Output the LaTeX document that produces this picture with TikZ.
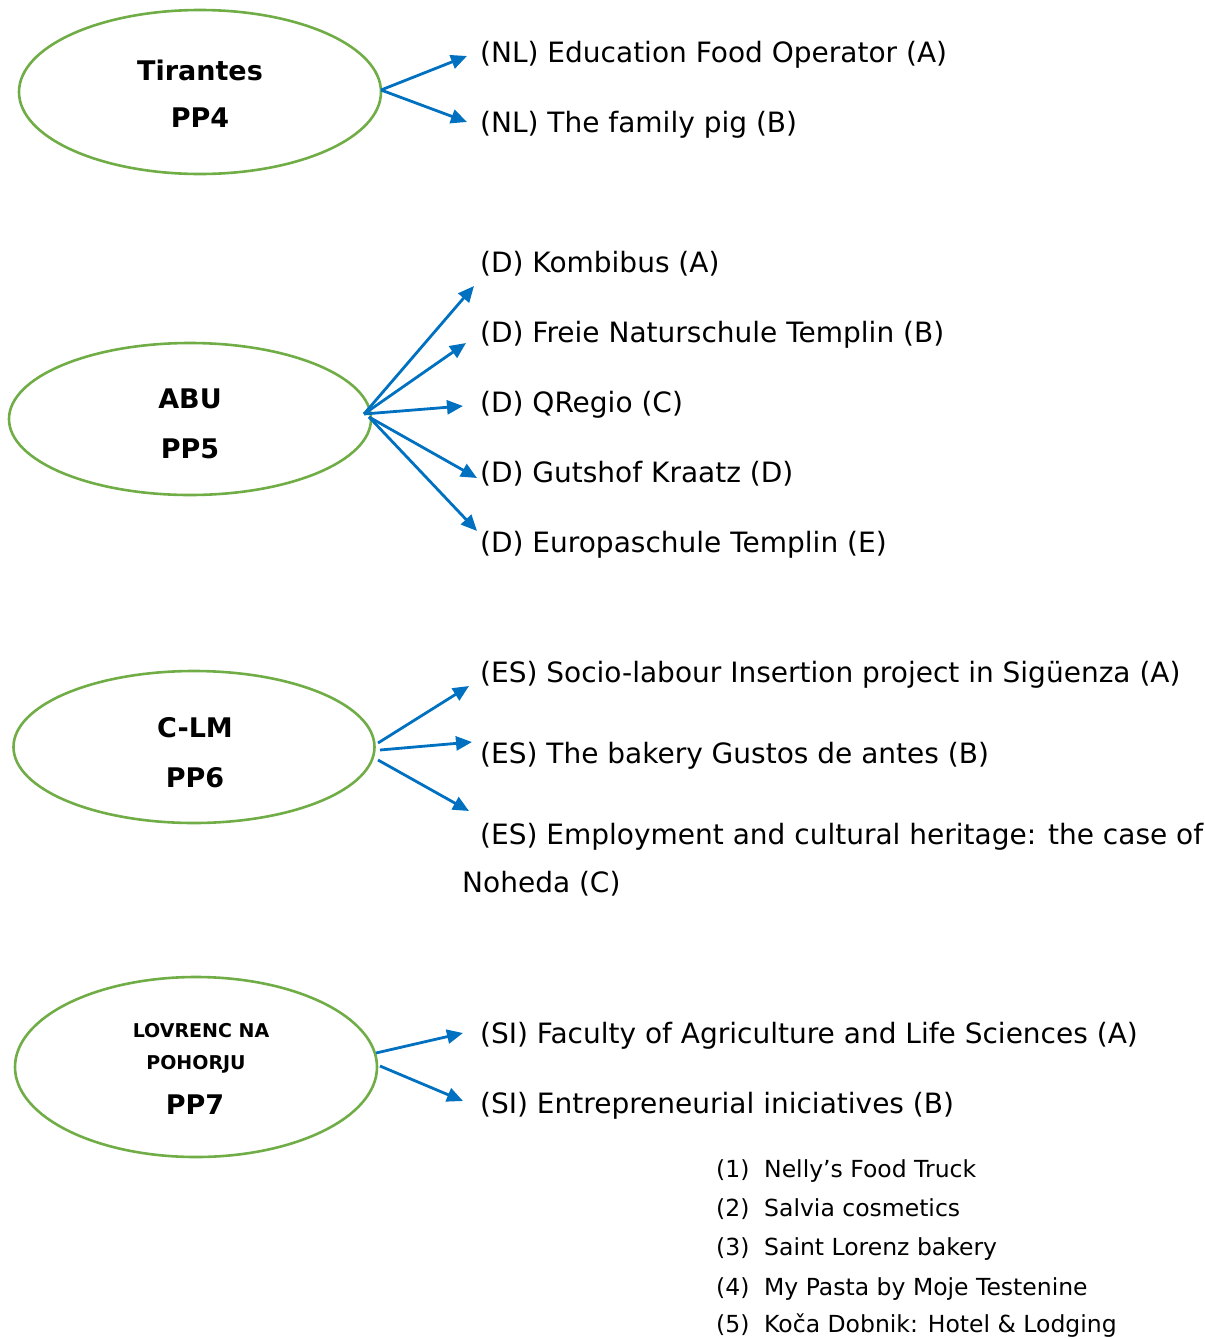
\documentclass[tikz,border=0pt]{standalone}
\usepackage{fontspec}
\setmainfont{DejaVu Sans}
\usetikzlibrary{shapes.geometric,arrows.meta}
\definecolor{egreen}{RGB}{112,173,71}
\definecolor{ablue}{RGB}{0,112,192}
\tikzset{
  oval/.style={ellipse, draw=egreen, line width=2.6pt, inner sep=0pt},
  ovaltxt/.style={font=\fontsize{27}{31}\selectfont\bfseries, inner sep=0pt, anchor=center},
  smalltxt/.style={font=\fontsize{19}{23}\selectfont\bfseries, inner sep=0pt, anchor=center},
  item/.style={font=\fontsize{28}{32}\selectfont, inner sep=0pt, anchor=base west},
  sub/.style={font=\fontsize{23.5}{28}\selectfont, inner sep=0pt, anchor=base west},
  arr/.style={draw=ablue, line width=2.8pt, -{Triangle[length=16pt,width=14pt]}}
}
\begin{document}
\begin{tikzpicture}[x=1pt,y=-1pt]
\useasboundingbox (0,0) rectangle (1205,1339);
% ellipses
\node[oval, minimum width=362pt, minimum height=164pt] (e1) at (200,92) {};
\node[oval, minimum width=362pt, minimum height=152pt] (e2) at (190,419) {};
\node[oval, minimum width=361pt, minimum height=152pt] (e3) at (194,747) {};
\node[oval, minimum width=362pt, minimum height=180pt] (e4) at (196,1067) {};
% ellipse labels
\node[ovaltxt] (t1a) at (200,70) {Tirantes};
\node[ovaltxt] (t1b) at (200,118) {PP4};
\node[ovaltxt] (t2a) at (190,399) {ABU};
\node[ovaltxt] (t2b) at (190,449) {PP5};
\node[ovaltxt] (t3a) at (195,728) {C-LM};
\node[ovaltxt] (t3b) at (195,778) {PP6};
\node[smalltxt] (t4a) at (201,1031) {LOVRENC NA};
\node[smalltxt] (t4b) at (196,1064) {POHORJU};
\node[ovaltxt] (t4c) at (195,1105) {PP7};
% items
\node[item] (a1) at (480,62) {(NL) Education Food Operator (A)};
\node[item] (a2) at (480,132) {(NL) The family pig (B)};
\node[item] (b1) at (480,272) {(D) Kombibus (A)};
\node[item] (b2) at (480,342) {(D) Freie Naturschule Templin (B)};
\node[item] (b3) at (480,412) {(D) QRegio (C)};
\node[item] (b4) at (480,482) {(D) Gutshof Kraatz (D)};
\node[item] (b5) at (480,552) {(D) Europaschule Templin (E)};
\node[item] (c1) at (480,682) {(ES) Socio-labour Insertion project in Sigüenza (A)};
\node[item] (c2) at (480,763) {(ES) The bakery Gustos de antes (B)};
\node[item] (c3) at (480,844) {(ES) Employment and cultural heritage: the case of};
\node[item] (c3b) at (462,892) {Noheda (C)};
\node[item] (d1) at (480,1043) {(SI) Faculty of Agriculture and Life Sciences (A)};
\node[item] (d2) at (480,1113) {(SI) Entrepreneurial iniciatives (B)};
% sub list
\foreach \n/\y/\t in {1/1177/Nelly’s Food Truck, 2/1216/Salvia cosmetics, 3/1255/Saint Lorenz bakery, 4/1295/My Pasta by Moje Testenine, 5/1332/Koča Dobnik: Hotel \& Lodging}{
  \node[sub] (n\n) at (716,\y) {(\n)};
  \node[sub] (s\n) at (764,\y) {\t};
}
% arrow coordinates
\coordinate (p1) at (381,90);
\coordinate (q1) at (467,56);
\coordinate (q2) at (467,122);
\coordinate (p2) at (364,414);
\coordinate (p2b) at (369,417);
\coordinate (r1) at (474,286);
\coordinate (r2) at (466,343);
\coordinate (r3) at (463,406);
\coordinate (r4) at (477,478);
\coordinate (r5) at (477,531);
\coordinate (p3a) at (378,743);
\coordinate (p3b) at (380,750);
\coordinate (p3c) at (378,760);
\coordinate (u1) at (469,686);
\coordinate (u2) at (472,742);
\coordinate (u3) at (469,811);
\coordinate (p4a) at (376,1053);
\coordinate (p4b) at (380,1066);
\coordinate (v1) at (463,1033);
\coordinate (v2) at (463,1101);
\draw[arr] (p1) -- (q1);
\draw[arr] (p1) -- (q2);
\draw[arr] (p2) -- (r1);
\draw[arr] (p2) -- (r2);
\draw[arr] (p2) -- (r3);
\draw[arr] (p2b) -- (r4);
\draw[arr] (p2b) -- (r5);
\draw[arr] (p3a) -- (u1);
\draw[arr] (p3b) -- (u2);
\draw[arr] (p3c) -- (u3);
\draw[arr] (p4a) -- (v1);
\draw[arr] (p4b) -- (v2);
\end{tikzpicture}
\end{document}
